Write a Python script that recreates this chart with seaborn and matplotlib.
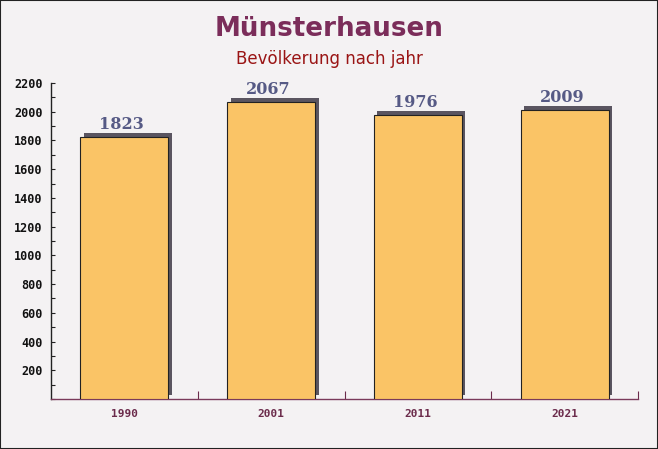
import numpy as np
import pandas as pd
import seaborn as sns
import matplotlib.pyplot as plt
import matplotlib.transforms as mtransforms
from matplotlib.ticker import MultipleLocator

years = ["1990", "2001", "2011", "2021"]
population = [1823, 2067, 1976, 2009]

df = pd.DataFrame({"jahr": years, "einwohner": population})

sns.set_style("white")
fig = plt.figure(figsize=(6.58, 4.49), dpi=100)
fig.patch.set_facecolor("#f4f2f3")
ax = fig.add_axes([51 / 658, 50 / 449, 587 / 658, 316 / 449])
ax.set_facecolor("none")

# shadow bars, shifted a few pixels right/up
shadow = mtransforms.offset_copy(ax.transData, fig=fig, x=3.5, y=4, units="dots")
sns.barplot(data=df, x="jahr", y="einwohner", color="#5a5560", width=0.6,
            saturation=1, ax=ax, zorder=2)
for p in ax.patches:
    p.set_transform(shadow)
    p.set_edgecolor("none")
    p.set_clip_on(True)

sns.barplot(data=df, x="jahr", y="einwohner", color="#fac466", width=0.6,
            saturation=1, ax=ax, zorder=3, edgecolor="#222222", linewidth=0.8)

for i, v in enumerate(population):
    ax.text(i - 0.02, v + 28, str(v), ha="center", va="bottom",
            fontsize=11.5, fontweight="bold", family="DejaVu Serif",
            color="#565a85", zorder=5)

ax.set_xlim(-0.5, 3.5)
ax.set_ylim(0, 2200)
ax.set_xlabel("")
ax.set_ylabel("")
ax.yaxis.set_major_locator(MultipleLocator(200))
ax.yaxis.set_minor_locator(MultipleLocator(100))
ax.set_yticks(range(200, 2201, 200))
ax.set_xticks(range(4))
ax.set_xticks(np.arange(0.5, 4, 1), minor=True)

ax.tick_params(axis="y", which="both", direction="in", left=True,
               length=3, width=0.8, color="#222222", pad=6)
ax.tick_params(axis="x", which="major", length=0, pad=7)
ax.tick_params(axis="x", which="minor", direction="in", bottom=True,
               length=6, width=0.8, color="#6b2b4b")

for lab in ax.get_yticklabels():
    lab.set_family("DejaVu Sans Mono")
    lab.set_fontweight("bold")
    lab.set_fontsize(8.5)
    lab.set_color("#111111")
for lab in ax.get_xticklabels():
    lab.set_family("DejaVu Sans Mono")
    lab.set_fontweight("bold")
    lab.set_fontsize(8)
    lab.set_color("#6b2b4b")

for s in ["top", "right"]:
    ax.spines[s].set_visible(False)
ax.spines["left"].set_color("#222222")
ax.spines["left"].set_linewidth(1)
ax.spines["bottom"].set_color("#7a3a5a")
ax.spines["bottom"].set_linewidth(1)

fig.text(0.5, 1 - 29 / 449, "Münsterhausen", ha="center", va="center",
         fontsize=18.8, fontweight="bold", color="#7b2d5a", family="DejaVu Sans")
fig.text(0.5, 1 - 59 / 449, "Bevölkerung nach jahr", ha="center", va="center",
         fontsize=12, color="#9a1515", family="DejaVu Sans")

# thin frame around the figure
fig.add_artist(plt.Rectangle((0, 0), 1, 1, transform=fig.transFigure,
                             fill=False, edgecolor="#222222", linewidth=1.5))

fig.savefig("out.png", dpi=100, facecolor=fig.get_facecolor())
